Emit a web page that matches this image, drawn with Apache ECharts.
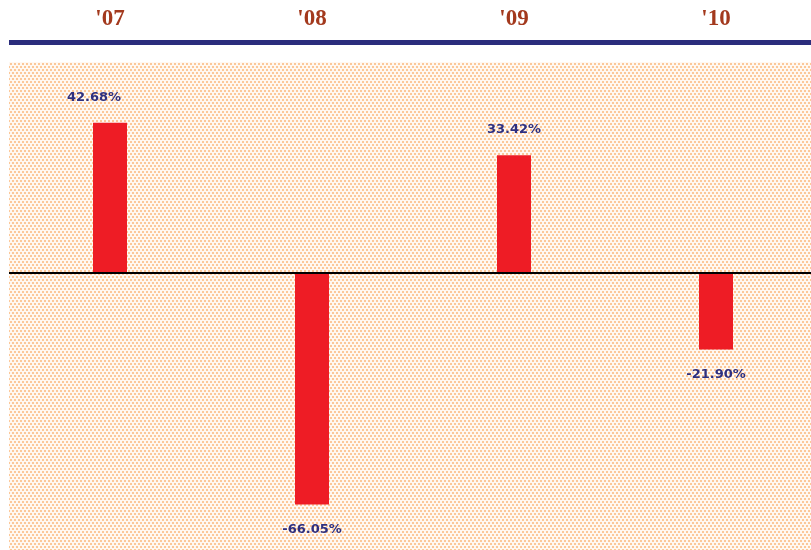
<!DOCTYPE html>
<html><head><meta charset="utf-8">
<script src="https://cdn.jsdelivr.net/npm/echarts@6/dist/echarts.min.js"></script>
<style>html,body{margin:0;padding:0;background:#fff;overflow:hidden;width:811px;height:550px}#c{width:817px;height:550px}</style>
</head><body><div id="c"></div>
<script>
const categories = ["'07", "'08", "'09", "'10"];
const returns = [42.68, -66.05, 33.42, -21.90];

const pc = document.createElement('canvas');
pc.width = 4; pc.height = 6;
const g = pc.getContext('2d');
g.fillStyle = '#fff8f1'; g.fillRect(0, 0, 4, 6);
g.fillStyle = '#fcc899';
g.fillRect(0, 0, 2, 2);
g.fillRect(2, 3, 2, 2);

const chart = echarts.init(document.getElementById('c'));
chart.setOption({
  animation: false,
  backgroundColor: '#ffffff',
  grid: { left: 9, top: 62, right: 0, bottom: 0, show: true, borderWidth: 0,
    backgroundColor: { image: pc, repeat: 'repeat' } },
  xAxis: {
    type: 'category', data: categories, position: 'top', offset: 20,
    axisLine: { show: true, onZero: false, lineStyle: { color: '#2b2d7c', width: 5, cap: 'butt' } },
    axisTick: { show: false },
    axisLabel: { margin: 11, color: '#a3391d', fontFamily: 'Liberation Serif', fontWeight: 'bold', fontSize: 23 },
    splitLine: { show: false }
  },
  yAxis: { type: 'value', min: -79, max: 60, show: false, splitLine: { show: false } },
  series: [{
    type: 'bar', barWidth: 34,
    itemStyle: { color: '#ee1c25' },
    data: returns.map((v, i) => ({
      value: v,
      label: { position: v >= 0 ? 'top' : 'bottom', offset: i === 0 ? [-16, 0] : [0, 0] }
    })),
    label: { show: true, distance: 19, color: '#2e3080', fontFamily: 'DejaVu Sans', fontWeight: 'bold', fontSize: 13,
      formatter: p => p.value.toFixed(2) + '%' },
    markLine: { silent: true, symbol: 'none', label: { show: false },
      lineStyle: { color: '#000000', width: 2, type: 'solid' }, data: [{ yAxis: 0 }] }
  }]
});
</script></body></html>
